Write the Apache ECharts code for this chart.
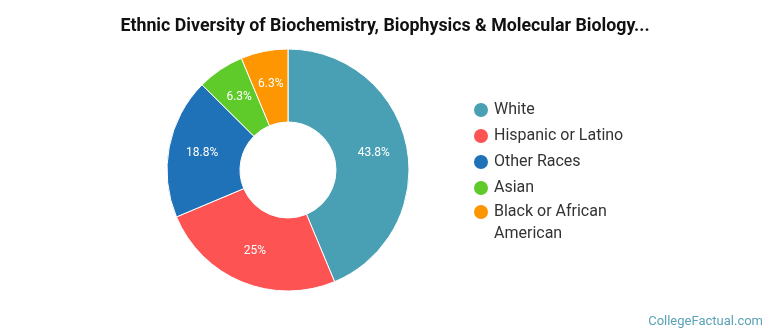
<!DOCTYPE html>
<html>
<head>
<meta charset="utf-8">
<script src="https://cdn.jsdelivr.net/npm/echarts@6/dist/echarts.min.js"></script>
<style>
  html, body { margin: 0; padding: 0; background: #fff; }
  #chart { width: 770px; height: 335px; }
</style>
</head>
<body>
<div id="chart"></div>
<script>
// Ethnic breakdown, percentage of graduates
const categories = ['White', 'Hispanic or Latino', 'Other Races', 'Asian', 'Black or African American'];
const shares = [43.8, 25, 18.8, 6.3, 6.3];
const sliceColors = ['#49a0b4', '#fd5353', '#1f71b8', '#5fcb2a', '#fd9600'];

const chart = echarts.init(document.getElementById('chart'), null, { renderer: 'canvas' });

const pieData = categories.map((name, i) => ({
  name: name,
  value: shares[i],
  itemStyle: { color: sliceColors[i] }
}));

const legendText = {
  fontFamily: 'Roboto',
  fontSize: 16,
  lineHeight: 22,
  color: '#333333'
};

const legendCommon = {
  orient: 'vertical',
  left: 472,
  padding: 0,
  icon: 'circle',
  itemWidth: 16,
  itemHeight: 16,
  itemGap: 4,
  selectedMode: false,
  textStyle: legendText
};

// The last entry wraps onto two lines; a leading blank line keeps its marker
// level with the first line of text.
const wrapped = categories[categories.length - 1];

chart.setOption({
  animation: false,
  backgroundColor: '#ffffff',
  title: {
    text: 'Ethnic Diversity of Biochemistry, Biophysics & Molecular Biology...',
    left: 'center',
    top: 18,
    padding: 0,
    textStyle: {
      fontFamily: 'Roboto',
      fontSize: 17.8,
      fontWeight: 'bold',
      color: '#111111'
    }
  },
  legend: [
    Object.assign({}, legendCommon, {
      top: 99,
      data: categories.slice(0, categories.length - 1)
    }),
    Object.assign({}, legendCommon, {
      top: 179,
      data: [wrapped],
      formatter: () => ' \nBlack or African\nAmerican'
    })
  ],
  graphic: [{
    type: 'text',
    right: 7,
    bottom: 7,
    style: {
      text: 'CollegeFactual.com',
      fontFamily: 'Roboto',
      fontSize: 13,
      fill: '#5aa2b6'
    }
  }],
  series: [{
    type: 'pie',
    center: [288, 170],
    radius: [48, 121],
    startAngle: 90,
    clockwise: true,
    avoidLabelOverlap: false,
    itemStyle: { borderColor: '#ffffff', borderWidth: 1 },
    label: {
      show: true,
      position: 'inside',
      formatter: p => p.value + '%',
      fontFamily: 'Roboto',
      fontSize: 12,
      color: '#ffffff'
    },
    labelLine: { show: false },
    emphasis: { disabled: true },
    data: pieData
  }]
});
</script>
</body>
</html>
